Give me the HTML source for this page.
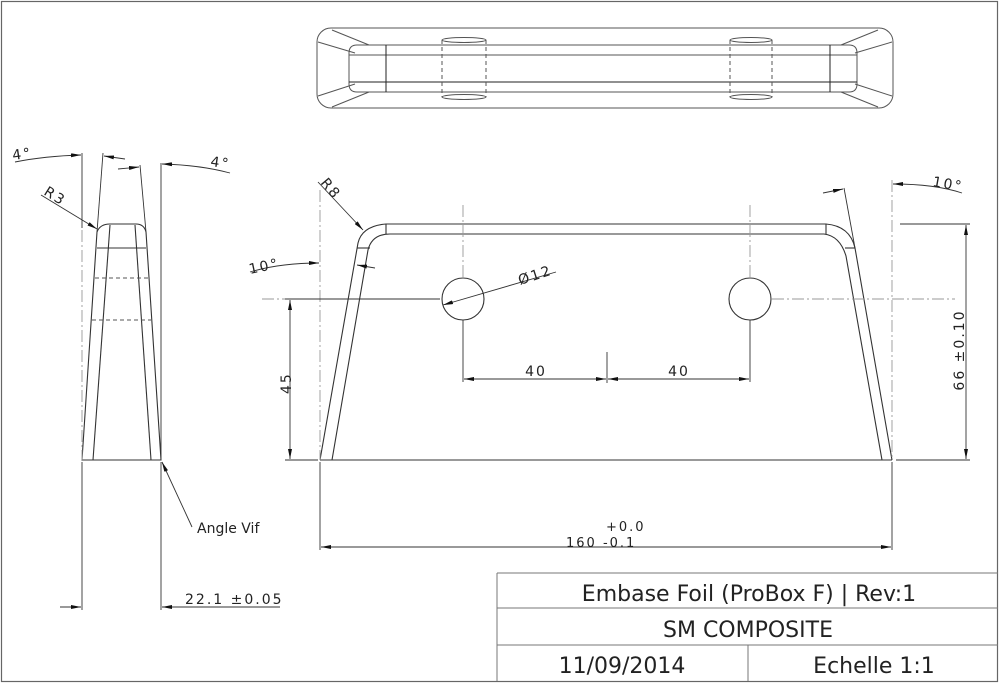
<!DOCTYPE html>
<html><head><meta charset="utf-8"><style>
html,body{margin:0;padding:0;background:#fff;}
svg{display:block;}
text{font-family:"DejaVu Sans","Liberation Sans",sans-serif;fill:#222;}
.d{letter-spacing:2px;}
</style></head><body>
<svg width="1000" height="684" viewBox="0 0 1000 684" xmlns="http://www.w3.org/2000/svg">
<defs>
<marker id="a" viewBox="0 0 10 4" refX="10" refY="2" markerWidth="10" markerHeight="4" orient="auto-start-reverse" markerUnits="userSpaceOnUse">
<path d="M0,0 L10,2 L0,4 z" fill="#111"/></marker>
</defs>
<rect x="0" y="0" width="1000" height="684" fill="#fff"/>
<rect x="1.5" y="1.5" width="996" height="680" fill="none" stroke="#666" stroke-width="1.2"/>

<!-- title block -->
<g stroke="#777" stroke-width="1" fill="none">
<line x1="497" y1="573" x2="998" y2="573"/>
<line x1="497" y1="573" x2="497" y2="681"/>
<line x1="497" y1="608" x2="998" y2="608"/>
<line x1="497" y1="645" x2="998" y2="645"/>
<line x1="748" y1="645" x2="748" y2="681"/>
</g>
<text x="749" y="601" font-size="22" text-anchor="middle">Embase Foil (ProBox F) | Rev:1</text>
<text x="748" y="637" font-size="22" text-anchor="middle">SM COMPOSITE</text>
<text x="622" y="673" font-size="22" text-anchor="middle">11/09/2014</text>
<text x="874" y="673" font-size="22" text-anchor="middle">Echelle 1:1</text>

<!-- top view -->
<g stroke="#555" stroke-width="1" fill="none">
<rect x="317" y="28" width="576" height="80" rx="14"/>
<path d="M359,45 H851 Q859,45 859,53 V84 Q859,92 851,92 H359 Q351,92 351,84 V53 Q351,45 359,45 Z" transform="translate(-2,0)"/>
<line x1="349" y1="55" x2="857" y2="55"/>
<line x1="349" y1="82" x2="857" y2="82" stroke="#222"/>
<line x1="386" y1="45" x2="386" y2="92" stroke="#222"/>
<line x1="830" y1="45" x2="830" y2="92" stroke="#222"/>
<path d="M332,30 L369,45 M318,42 L355,53 M318,96 L355,84 M332,107 L369,92"/>
<path d="M878,30 L841,45 M892,42 L855,53 M892,96 L855,84 M878,107 L841,92"/>
<g stroke-dasharray="4,3">
<line x1="442" y1="40" x2="442" y2="97"/><line x1="486" y1="40" x2="486" y2="97"/>
<line x1="730" y1="40" x2="730" y2="97"/><line x1="772" y1="40" x2="772" y2="97"/>
</g>
<ellipse cx="464" cy="40" rx="22" ry="2.5"/><ellipse cx="464" cy="97" rx="22" ry="2.5"/>
<ellipse cx="751" cy="40" rx="21" ry="2.5"/><ellipse cx="751" cy="97" rx="21" ry="2.5"/>
</g>

<!-- front view -->
<g stroke="#333" stroke-width="1.1" fill="none">
<path d="M320,460 L358,243 Q362,226 386,224 H826 Q850,226 855,248 L892,460"/>
<path d="M332,460 L368,250 Q372,234 390,234 H824 Q840,236 846,256 L882,460"/>
<line x1="320" y1="460" x2="892" y2="460"/>
<line x1="386" y1="224" x2="386" y2="234"/>
<line x1="826" y1="224" x2="826" y2="234"/>
<line x1="357" y1="248" x2="370" y2="248"/>
<line x1="845" y1="248" x2="855" y2="248"/>
<circle cx="463" cy="299" r="21"/>
<circle cx="750" cy="299" r="21"/>
</g>
<g stroke="#999" stroke-width="0.9" fill="none" stroke-dasharray="12,3,2,3">
<line x1="320" y1="190" x2="320" y2="460"/>
<line x1="892" y1="180" x2="892" y2="460"/>
<line x1="463" y1="205" x2="463" y2="278"/>
<line x1="750" y1="205" x2="750" y2="278"/>
<line x1="262" y1="299" x2="440" y2="299"/>
<line x1="772" y1="299" x2="955" y2="299"/>
</g>
<g stroke="#333" stroke-width="0.9" fill="none">
<line x1="285" y1="299" x2="440" y2="299"/>
<line x1="285" y1="460" x2="318" y2="460"/>
<line x1="290" y1="300" x2="290" y2="459" marker-start="url(#a)" marker-end="url(#a)"/>
<line x1="463" y1="320" x2="463" y2="382"/>
<line x1="750" y1="320" x2="750" y2="382"/>
<line x1="607" y1="352" x2="607" y2="383"/>
<line x1="464" y1="379" x2="606" y2="379" marker-start="url(#a)" marker-end="url(#a)"/>
<line x1="608" y1="379" x2="749" y2="379" marker-start="url(#a)" marker-end="url(#a)"/>
<line x1="900" y1="224" x2="970" y2="224"/>
<line x1="896" y1="460" x2="970" y2="460"/>
<line x1="966" y1="225" x2="966" y2="459" marker-start="url(#a)" marker-end="url(#a)"/>
<line x1="320" y1="462" x2="320" y2="550"/>
<line x1="892" y1="462" x2="892" y2="550"/>
<line x1="321" y1="547" x2="891" y2="547" marker-start="url(#a)" marker-end="url(#a)"/>
<line x1="556" y1="272" x2="443" y2="305" marker-end="url(#a)"/>
<line x1="318" y1="182" x2="363" y2="230" marker-end="url(#a)"/>
<path d="M250,272 Q280,263 319,263" marker-end="url(#a)"/>
<line x1="375" y1="268" x2="357" y2="265" marker-end="url(#a)"/>
<line x1="844" y1="188" x2="855" y2="248"/>
<line x1="823" y1="193" x2="843" y2="189" marker-end="url(#a)"/>
<path d="M962,193 Q935,184 893,184" marker-end="url(#a)"/>
</g>
<text class="d" font-size="14" transform="translate(291,394) rotate(-90)">45</text>
<text class="d" x="536" y="376" font-size="14" text-anchor="middle">40</text>
<text class="d" x="679" y="376" font-size="14" text-anchor="middle">40</text>
<text class="d" font-size="14" transform="translate(964,350) rotate(-90)" text-anchor="middle">66 ±0.10</text>
<text class="d" x="606" y="531" font-size="13">+0.0</text>
<text class="d" x="566" y="547" font-size="13">160 -0.1</text>
<text class="d" font-size="14" transform="translate(520,285) rotate(-18)">Ø12</text>
<text class="d" font-size="14" transform="translate(320,183) rotate(50)">R8</text>
<text class="d" font-size="14" transform="translate(250,274) rotate(-12)">10°</text>
<text class="d" font-size="14" transform="translate(932,186) rotate(10)">10°</text>

<!-- side view -->
<g stroke="#333" stroke-width="1.1" fill="none">
<path d="M82,460 L97,232 Q100,224 110,224 H136 Q144,224 146,232 L161,460 Z"/>
<line x1="93" y1="460" x2="110" y2="225"/>
<line x1="151" y1="460" x2="135" y2="225"/>
<line x1="97" y1="248" x2="146" y2="248"/>
</g>
<g stroke="#555" stroke-width="0.9" fill="none" stroke-dasharray="4,3">
<line x1="95" y1="278" x2="148" y2="278"/>
<line x1="92" y1="320" x2="151" y2="320"/>
</g>
<g stroke="#999" stroke-width="0.9" stroke-dasharray="12,3,2,3">
<line x1="82" y1="230" x2="82" y2="460"/>
</g>
<g stroke="#333" stroke-width="0.9" fill="none">
<line x1="82" y1="153" x2="82" y2="228"/>
<line x1="82" y1="462" x2="82" y2="610"/>
<line x1="161" y1="163" x2="161" y2="459"/>
<line x1="161" y1="462" x2="161" y2="610"/>
<line x1="97" y1="232" x2="103" y2="153"/>
<line x1="146" y1="232" x2="140" y2="165"/>
<line x1="125" y1="159" x2="104" y2="156" marker-end="url(#a)"/>
<line x1="118" y1="169" x2="139" y2="167" marker-end="url(#a)"/>
<path d="M15,162 Q45,156 81,155" marker-end="url(#a)"/>
<path d="M230,173 Q200,165 162,164" marker-end="url(#a)"/>
<line x1="41" y1="195" x2="97" y2="229" marker-end="url(#a)"/>
<line x1="192" y1="527" x2="162" y2="462" marker-end="url(#a)"/>
<line x1="60" y1="607" x2="81" y2="607" marker-end="url(#a)"/>
<line x1="280" y1="607" x2="162" y2="607" marker-end="url(#a)"/>
</g>
<text class="d" font-size="14" transform="translate(13,160) rotate(-8)">4°</text>
<text class="d" font-size="14" transform="translate(210,166) rotate(8)">4°</text>
<text class="d" font-size="14" transform="translate(43,194) rotate(32)">R3</text>
<text x="197" y="533" font-size="14">Angle Vif</text>
<text class="d" x="185" y="604" font-size="14">22.1 ±0.05</text>
</svg>
</body></html>
